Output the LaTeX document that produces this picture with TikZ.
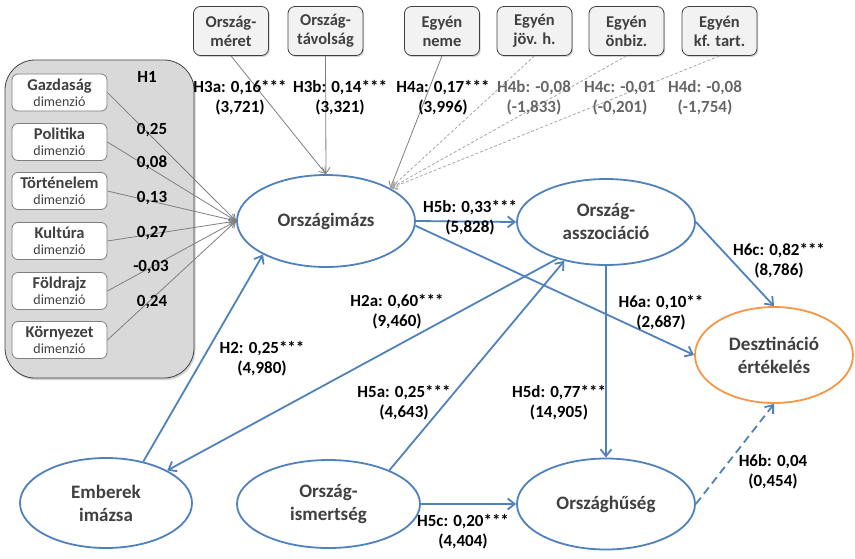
\documentclass[tikz,border=0pt]{standalone}
\usepackage{fontspec}
\setmainfont{Carlito}
\usetikzlibrary{arrows.meta,shadows,shapes.geometric}
\definecolor{blu}{HTML}{4F81BD}
\definecolor{org}{HTML}{F79646}
\definecolor{dg}{HTML}{404040}
\definecolor{mg}{HTML}{7F7F7F}
\definecolor{lg}{HTML}{A6A6A6}
\definecolor{topfill}{HTML}{F2F2F2}
\definecolor{panelfill}{HTML}{D9D9D9}
\definecolor{h4gray}{HTML}{666666}
\tikzset{
  topbox/.style={draw=dg, line width=0.8pt, fill=topfill, rounded corners=7pt,
    minimum width=75pt, minimum height=49pt, inner sep=0pt, align=center,
    font=\bfseries\fontsize{16.5}{19}\selectfont, text=dg,
    drop shadow={opacity=0.35, shadow xshift=1.2pt, shadow yshift=-1.5pt}},
  dimbox/.style={draw=mg, line width=0.8pt, fill=white, rounded corners=6pt,
    minimum width=95pt, minimum height=37pt, inner sep=0pt, align=center, text=dg,
    font=\bfseries\fontsize{16.5}{17}\selectfont},
  latent/.style={ellipse, draw=blu, line width=1.8pt, fill=white, inner sep=0pt,
    align=center, text=dg, font=\bfseries\fontsize{19}{23}\selectfont},
  lbl/.style={font=\bfseries\fontsize{17}{20}\selectfont, align=center, text=black, inner sep=0pt},
  lblg/.style={lbl, text=h4gray},
  grayarrow/.style={draw=mg, line width=0.8pt, -{Straight Barb[length=6pt,width=8pt]}},
  dasharrow/.style={draw=lg, line width=0.8pt, dash pattern=on 3pt off 2pt, -{Straight Barb[length=6pt,width=8pt]}},
  bluearrow/.style={draw=blu, line width=1.8pt, -{Straight Barb[length=7pt,width=11pt]}},
}
\newcommand{\dimtxt}[1]{#1\\[-1pt]{\normalfont\fontsize{14}{16}\selectfont dimenzió}}
\begin{document}
\begin{tikzpicture}[x=1pt,y=-1pt]
\useasboundingbox (0,0) rectangle (855,558);
% panel
\node[draw=dg, line width=0.8pt, fill=panelfill, rounded corners=30pt,
  minimum width=189pt, minimum height=318pt, inner sep=0pt,
  drop shadow={opacity=0.35, shadow xshift=1.5pt, shadow yshift=-2pt}] (panel) at (99.5,219) {};
\node[lbl] (h1) at (147,77) {H1};
% dimension boxes
\node[dimbox] (gaz) at (59.5,92.5) {\dimtxt{Gazdaság}};
\node[dimbox] (pol) at (59.5,142) {\dimtxt{Politika}};
\node[dimbox] (tor) at (59.5,191) {\dimtxt{Történelem}};
\node[dimbox] (kul) at (59.5,241) {\dimtxt{Kultúra}};
\node[dimbox] (fol) at (59.5,291) {\dimtxt{Földrajz}};
\node[dimbox] (kor) at (59.5,340) {\dimtxt{Környezet}};
% top boxes
\node[topbox] (meret) at (231,31) {Ország-\\méret};
\node[topbox] (tav) at (325.5,31) {Ország-\\távolság};
\node[topbox] (neme) at (442,31) {Egyén\\neme};
\node[topbox] (jov) at (534.5,31) {Egyén\\jöv. h.};
\node[topbox] (onb) at (626.5,31) {Egyén\\önbiz.};
\node[topbox] (kft) at (719.5,31) {Egyén\\kf. tart.};
% latent variables
\node[latent, minimum width=178pt, minimum height=92pt] (img) at (326,221) {Országimázs};
\node[latent, minimum width=178pt, minimum height=86pt] (asc) at (606,222) {Ország-\\asszociáció};
\node[latent, draw=org, minimum width=158pt, minimum height=96pt] (dest) at (774,355) {Desztináció\\értékelés};
\node[latent, minimum width=178pt, minimum height=91pt] (hus) at (606,504) {Országhűség};
\node[latent, minimum width=183pt, minimum height=88pt] (ism) at (328.5,504) {Ország-\\ismertség};
\node[latent, minimum width=172pt, minimum height=90pt] (emb) at (106,503) {Emberek\\imázsa};
% left arrows
\foreach \b in {gaz,pol,tor,kul,fol,kor} \draw[grayarrow] (\b.east) -- (img.west);
\node[lbl] (c1) at (152,130) {0,25};
\node[lbl] (c2) at (152,163) {0,08};
\node[lbl] (c3) at (152,198) {0,13};
\node[lbl] (c4) at (152,233) {0,27};
\node[lbl] (c5) at (151,267) {-0,03};
\node[lbl] (c6) at (152,302) {0,24};
% top arrows
\draw[grayarrow] (meret.south) -- (img.north);
\draw[grayarrow] (tav.south) -- (img.north);
\draw[grayarrow] (neme.south) -- (img.27);
\draw[dasharrow] (jov.south) -- (img.27);
\draw[dasharrow] (onb.south) -- (img.27);
\draw[dasharrow] (kft.south) -- (img.27);
\node[lbl] (l3a) at (240,98) {H3a: 0,16***\\(3,721)};
\node[lbl] (l3b) at (340,98) {H3b: 0,14***\\(3,321)};
\node[lbl] (l4a) at (443,98) {H4a: 0,17***\\(3,996)};
\node[lblg] (l4b) at (534,98) {H4b: -0,08\\(-1,833)};
\node[lblg] (l4c) at (620,98) {H4c: -0,01\\(-0,201)};
\node[lblg] (l4d) at (705,98) {H4d: -0,08\\(-1,754)};
% blue arrows
\draw[bluearrow] (img.east) -- (asc.west);
\draw[bluearrow] (img.-3) -- (dest.west);
\draw[bluearrow] (asc.east) -- (dest.north);
\draw[bluearrow] (asc.south) -- (hus.north);
\draw[bluearrow] (ism.east) -- (hus.west);
\draw[bluearrow, dash pattern=on 8pt off 5pt] (hus.east) -- (dest.south);
\draw[bluearrow] (ism.29) -- (asc.-137);
\draw[bluearrow] (asc.-143) -- (emb.28);
\draw[bluearrow] (emb.48) -- (img.-152);
\node[lbl] (l5b) at (470,218) {H5b: 0,33***\\(5,828)};
\node[lbl] (l6c) at (779,261) {H6c: 0,82***\\(8,786)};
\node[lbl] (l6a) at (661,313) {H6a: 0,10**\\(2,687)};
\node[lbl] (l2a) at (397,312) {H2a: 0,60***\\(9,460)};
\node[lbl] (l2) at (262,359) {H2: 0,25***\\(4,980)};
\node[lbl] (l5a) at (404,403) {H5a: 0,25***\\(4,643)};
\node[lbl] (l5d) at (559,403) {H5d: 0,77***\\(14,905)};
\node[lbl] (l6b) at (773,472) {H6b: 0,04\\(0,454)};
\node[lbl] (l5c) at (463,532) {H5c: 0,20***\\(4,404)};
\end{tikzpicture}
\end{document}
